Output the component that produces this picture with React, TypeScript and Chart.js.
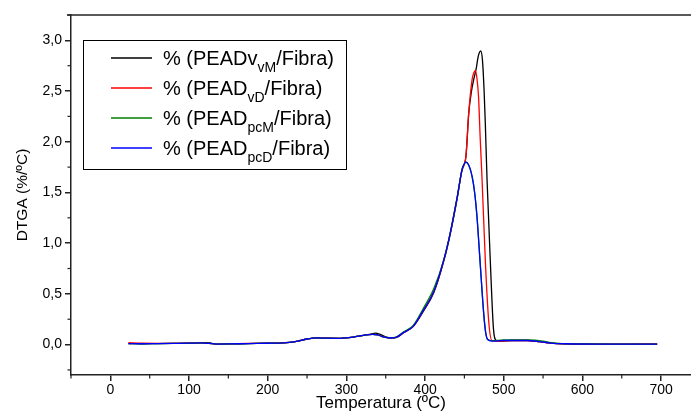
import React, { useEffect, useRef } from 'react';
import { Chart, registerables } from 'chart.js';

Chart.register(...registerables);

// ---------- data ----------
const xTicks = [0, 100, 200, 300, 400, 500, 600, 700];
const yTicks = [0, 0.5, 1.0, 1.5, 2.0, 2.5, 3.0];

const legendMain = ['% (PEADv', '% (PEAD', '% (PEAD', '% (PEAD'];
const legendSub = ['vM', 'vD', 'pcM', 'pcD'];
const legendTail = '/Fibra)';

const tBlack = [23, 40, 60, 80, 100, 115, 122, 128, 135, 150, 175, 200, 220, 235, 250, 262, 275, 292, 310, 325, 331, 337, 343, 350, 357, 364, 373, 385, 398, 411, 424, 432, 441, 447, 452, 455.5, 459, 462, 465, 467.5, 470.8, 473, 475, 476.5, 478.8, 483, 487, 490.6, 495, 510, 530, 545, 560, 580, 620, 660, 695];
const yBlack = [0.01, 0.008, 0.01, 0.012, 0.014, 0.016, 0.02, 0.015, 0.005, 0.006, 0.01, 0.013, 0.017, 0.03, 0.055, 0.066, 0.063, 0.062, 0.075, 0.095, 0.103, 0.113, 0.1, 0.075, 0.064, 0.07, 0.12, 0.18, 0.33, 0.51, 0.83, 1.09, 1.45, 1.73, 1.86, 2.28, 2.5, 2.62, 2.72, 2.84, 2.895, 2.8, 2.51, 2.2, 1.62, 0.81, 0.15, 0.04, 0.035, 0.04, 0.04, 0.03, 0.015, 0.008, 0.005, 0.005, 0.005];

const tRed = [23, 40, 60, 80, 100, 115, 125, 135, 150, 175, 200, 220, 235, 250, 262, 275, 292, 310, 325, 333, 340, 347, 355, 362, 373, 385, 398, 411, 424, 432, 441, 447, 450, 452, 455.5, 459.7, 462, 464, 466, 468, 470, 472.5, 476.7, 481, 485, 495, 510, 530, 545, 560, 580, 620, 660, 695];
const yRed = [0.02, 0.013, 0.012, 0.012, 0.014, 0.016, 0.012, 0.005, 0.007, 0.011, 0.014, 0.018, 0.03, 0.055, 0.066, 0.063, 0.062, 0.075, 0.095, 0.1, 0.095, 0.075, 0.065, 0.068, 0.12, 0.18, 0.34, 0.52, 0.84, 1.1, 1.46, 1.72, 1.78, 1.86, 2.28, 2.61, 2.68, 2.7, 2.62, 2.44, 2.05, 1.62, 0.81, 0.22, 0.04, 0.035, 0.04, 0.04, 0.03, 0.015, 0.008, 0.005, 0.005, 0.006];

const tGreen = [23, 40, 60, 80, 100, 115, 125, 135, 150, 175, 200, 220, 235, 250, 262, 275, 292, 310, 325, 333, 340, 347, 355, 362, 373, 385, 398, 411, 424, 432, 441, 447, 452, 456, 459.7, 463, 466, 470, 474.5, 477, 479.6, 485, 500, 530, 550, 560, 575, 600, 640, 695];
const yGreen = [0.01, 0.008, 0.01, 0.012, 0.014, 0.016, 0.012, 0.005, 0.006, 0.01, 0.013, 0.017, 0.03, 0.055, 0.066, 0.063, 0.062, 0.075, 0.095, 0.1, 0.095, 0.075, 0.065, 0.07, 0.125, 0.19, 0.36, 0.55, 0.84, 1.1, 1.46, 1.72, 1.8, 1.76, 1.66, 1.5, 1.26, 0.81, 0.31, 0.12, 0.05, 0.038, 0.045, 0.045, 0.035, 0.02, 0.01, 0.006, 0.005, 0.005];

const tBlue = [23, 40, 60, 80, 100, 115, 125, 135, 150, 175, 200, 220, 235, 250, 262, 275, 292, 310, 325, 333, 340, 347, 355, 362, 373, 385, 398, 411, 424, 432, 441, 447, 452, 456, 459.7, 463, 466, 470, 474.5, 477, 479.6, 485, 500, 530, 545, 560, 580, 620, 660, 695];
const yBlue = [0.01, 0.008, 0.01, 0.012, 0.014, 0.016, 0.012, 0.005, 0.006, 0.01, 0.013, 0.017, 0.03, 0.055, 0.066, 0.063, 0.062, 0.075, 0.095, 0.1, 0.095, 0.075, 0.065, 0.068, 0.12, 0.18, 0.34, 0.52, 0.84, 1.1, 1.46, 1.72, 1.8, 1.76, 1.66, 1.5, 1.26, 0.81, 0.31, 0.12, 0.05, 0.035, 0.04, 0.04, 0.03, 0.015, 0.008, 0.005, 0.005, 0.005];

// ---------- style ----------
const FONT = '"Liberation Sans", Arial, sans-serif';
const COLORS = ['#000000', '#ff0000', '#008000', '#0000ff'];
const AXIS = '#222222';

const toPts = (t: number[], y: number[]) => t.map((v, i) => ({ x: v, y: y[i] }));

const extrasPlugin = {
  id: 'extras',
  afterDraw(chart: any) {
    const { ctx, chartArea, scales } = chart;
    const xs = scales.x;
    const ys = scales.y;
    ctx.save();
    ctx.strokeStyle = AXIS;
    ctx.lineWidth = 1.5;
    // top frame line
    ctx.beginPath();
    ctx.moveTo(chartArea.left - 4, chartArea.top);
    ctx.lineTo(chartArea.right, chartArea.top);
    ctx.stroke();
    // minor ticks
    ctx.lineWidth = 1.2;
    for (let v = -50; v <= 750; v += 100) {
      const px = xs.getPixelForValue(v);
      if (px < chartArea.left - 0.5 || px > chartArea.right) continue;
      ctx.beginPath();
      ctx.moveTo(px, chartArea.bottom);
      ctx.lineTo(px, chartArea.bottom + 3.5);
      ctx.stroke();
    }
    for (let v = -0.25; v <= 3.3; v += 0.5) {
      const py = ys.getPixelForValue(v);
      if (py < chartArea.top - 0.5 || py > chartArea.bottom) continue;
      ctx.beginPath();
      ctx.moveTo(chartArea.left, py);
      ctx.lineTo(chartArea.left - 3.5, py);
      ctx.stroke();
    }
    // legend
    const bx = 83, by = 40, bw = 263, bh = 129;
    ctx.strokeStyle = '#000';
    ctx.lineWidth = 1;
    ctx.strokeRect(bx + 0.5, by + 0.5, bw, bh);
    const rowY = [58, 88, 118, 148];
    for (let i = 0; i < 4; i++) {
      const ly = rowY[i];
      ctx.strokeStyle = COLORS[i];
      ctx.lineWidth = 1.3;
      ctx.beginPath();
      ctx.moveTo(111, ly);
      ctx.lineTo(152, ly);
      ctx.stroke();
      ctx.fillStyle = '#000';
      ctx.textAlign = 'left';
      ctx.textBaseline = 'alphabetic';
      let x = 163;
      ctx.font = `20px ${FONT}`;
      ctx.fillText(legendMain[i], x, ly + 7);
      x += ctx.measureText(legendMain[i]).width;
      ctx.font = `14px ${FONT}`;
      ctx.fillText(legendSub[i], x, ly + 13.5);
      x += ctx.measureText(legendSub[i]).width;
      ctx.font = `20px ${FONT}`;
      ctx.fillText(legendTail, x, ly + 7);
    }
    ctx.restore();
  },
};

export default function App() {
  const ref = useRef<HTMLCanvasElement>(null);
  useEffect(() => {
    if (!ref.current) return;
    const series = [
      { t: tBlack, y: yBlack },
      { t: tRed, y: yRed },
      { t: tGreen, y: yGreen },
      { t: tBlue, y: yBlue },
    ];
    const chart = new Chart(ref.current, {
      type: 'line',
      data: {
        datasets: series.map((s, i) => ({
          label: legendMain[i] + legendSub[i] + legendTail,
          data: toPts(s.t, s.y),
          borderColor: COLORS[i],
          backgroundColor: COLORS[i],
          borderWidth: 1.3,
          pointRadius: 0,
          fill: false,
          cubicInterpolationMode: 'monotone' as const,
          order: 3 - i,
        })),
      },
      options: {
        responsive: false,
        animation: false,
        devicePixelRatio: 1,
        layout: { padding: { top: 15, right: 0, left: 0, bottom: 0 } },
        plugins: { legend: { display: false }, tooltip: { enabled: false } },
        scales: {
          x: {
            type: 'linear',
            min: -50,
            max: 738,
            afterBuildTicks: (s: any) => {
              s.ticks = xTicks.map((v) => ({ value: v }));
            },
            afterFit: (s: any) => {
              s.height = 41;
            },
            ticks: {
              font: { family: FONT, size: 14 },
              color: '#000',
              padding: 1,
              maxRotation: 0,
              autoSkip: false,
              callback: (v: any) => String(v),
            },
            grid: { drawOnChartArea: false, tickLength: 6, color: AXIS, lineWidth: 1.5 },
            border: { color: AXIS, width: 1.5 },
            title: {
              display: true,
              text: 'Temperatura (ºC)',
              color: '#000',
              font: { family: FONT, size: 17 },
              padding: { top: 0, bottom: 2 },
            },
          },
          y: {
            type: 'linear',
            min: -0.3,
            max: 3.25,
            afterBuildTicks: (s: any) => {
              s.ticks = yTicks.map((v) => ({ value: v }));
            },
            afterFit: (s: any) => {
              s.width = 71;
            },
            ticks: {
              font: { family: FONT, size: 14 },
              color: '#000',
              padding: 3,
              callback: (v: any) => Number(v).toFixed(1).replace('.', ','),
            },
            grid: { drawOnChartArea: false, tickLength: 6, color: AXIS, lineWidth: 1.5 },
            border: { color: AXIS, width: 1.5 },
            title: {
              display: true,
              text: 'DTGA (%/ºC)',
              color: '#000',
              font: { family: FONT, size: 15.5 },
              padding: { top: 13, bottom: 0 },
            },
          },
        },
      },
      plugins: [extrasPlugin],
    });
    return () => chart.destroy();
  }, []);
  return (
    <div style={{ position: 'absolute', left: 0, top: 0, width: 691, height: 416, background: '#fff' }}>
      <canvas ref={ref} width={691} height={416} style={{ width: 691, height: 416, display: 'block' }} />
    </div>
  );
}
